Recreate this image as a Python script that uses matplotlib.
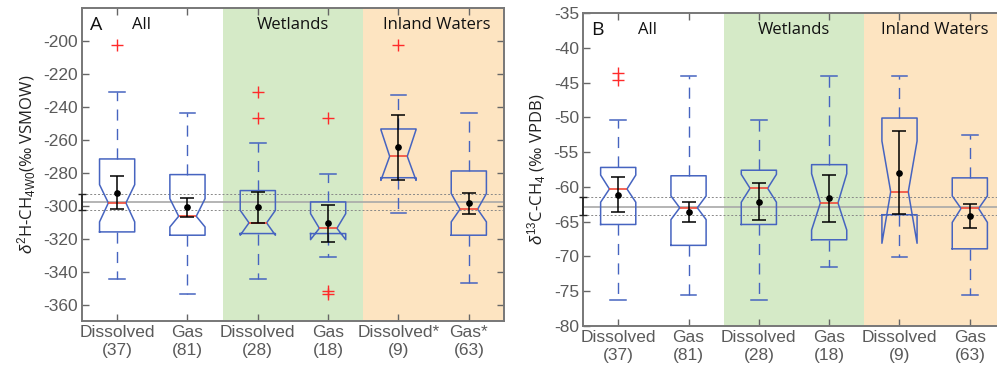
import matplotlib
matplotlib.use("Agg")
import matplotlib.pyplot as plt

plt.rcParams['font.family'] = ['Liberation Sans', 'DejaVu Sans']
plt.rcParams['mathtext.fontset'] = 'custom'
plt.rcParams['mathtext.rm'] = 'Liberation Sans'
plt.rcParams['mathtext.it'] = 'Liberation Sans:italic'

# categories shared by both panels
groups = ["All", "Wetlands", "Inland Waters"]
counts = [37, 81, 28, 18, 9, 63]
labels_a = ["Dissolved", "Gas", "Dissolved", "Gas", "Dissolved*", "Gas*"]
labels_b = ["Dissolved", "Gas", "Dissolved", "Gas", "Dissolved", "Gas"]

# panel A: d2H-CH4 box statistics (lower cap, q1, median, q3, upper cap, notch lo, notch hi)
h_whislo = [-344.2, -353.9, -344.2, -331.3, -304.4, -346.8]
h_q1 = [-315.9, -317.9, -316.9, -316.9, -283.0, -317.9]
h_med = [-298.3, -306.4, -310.4, -313.7, -270.0, -302.1]
h_q3 = [-271.6, -281.1, -290.8, -297.7, -253.4, -278.9]
h_whishi = [-231.0, -244.0, -262.1, -280.7, -233.0, -244.0]
h_cilo = [-309.8, -312.9, -317.9, -320.6, -284.6, -309.8]
h_cihi = [-287.2, -295.7, -302.8, -304.8, -253.8, -292.6]
h_fliers = [[-202.6], [], [-231.0, -246.7], [-246.5, -351.9, -353.9], [-202.6], []]
h_mean = [-292.0, -300.9, -300.9, -310.6, -264.5, -298.1]
h_mean_lo = [-302.0, -306.6, -310.2, -322.2, -284.1, -304.8]
h_mean_hi = [-282.1, -295.5, -291.4, -299.3, -244.7, -292.0]
h_ref = -298.0
h_ref_lo = -302.8
h_ref_hi = -293.0

# panel B: d13C-CH4 box statistics
c_whislo = [-76.3, -75.5, -76.3, -71.5, -70.1, -75.5]
c_q1 = [-65.4, -68.4, -65.4, -67.6, -64.0, -68.9]
c_med = [-60.3, -63.0, -60.2, -62.3, -60.7, -63.1]
c_q3 = [-57.2, -58.4, -57.6, -56.8, -50.1, -58.7]
c_whishi = [-50.4, -44.1, -50.4, -44.1, -44.0, -52.5]
c_cilo = [-62.2, -64.7, -62.2, -66.2, -68.1, -65.1]
c_cihi = [-58.3, -61.3, -58.2, -58.1, -53.4, -61.3]
c_fliers = [[-43.6, -44.6], [], [], [], [], []]
c_mean = [-61.1, -63.6, -62.1, -61.6, -58.0, -64.2]
c_mean_lo = [-63.6, -65.1, -64.8, -65.0, -63.9, -65.9]
c_mean_hi = [-58.6, -62.1, -59.4, -58.3, -52.0, -62.5]
c_ref = -62.85
c_ref_lo = -64.1
c_ref_hi = -61.4

BLUE = '#4664c0'
RED = '#f04a3a'
GREEN_BG = '#d5eac7'
ORANGE_BG = '#fde4c1'
GRAY = '#5a5a5a'


def draw_panel(ax, letter, whislo, q1, med, q3, whishi, cilo, cihi, fliers,
               mean, mean_lo, mean_hi, ref, ref_lo, ref_hi, ylim, yticks,
               ticklabels, ylabel, group_x):
    ax.axvspan(2.5, 4.5, color=GREEN_BG, zorder=0, lw=0)
    ax.axvspan(4.5, 6.5, color=ORANGE_BG, zorder=0, lw=0)

    ax.axhline(ref, color='#a8a8a8', lw=1.2, zorder=1)
    ax.axhline(ref_lo, color='#888888', lw=0.7, ls=(0, (2, 2)), zorder=1)
    ax.axhline(ref_hi, color='#888888', lw=0.7, ls=(0, (2, 2)), zorder=1)
    ax.errorbar([0.5], [ref], yerr=[[ref - ref_lo], [ref_hi - ref]],
                fmt='none', ecolor='#222222', elinewidth=1.2, capsize=3,
                clip_on=False, zorder=5)

    stats = []
    for i in range(len(med)):
        stats.append(dict(whislo=whislo[i], q1=q1[i], med=med[i], q3=q3[i],
                          whishi=whishi[i], cilo=cilo[i], cihi=cihi[i],
                          fliers=fliers[i]))
    positions = list(range(1, len(med) + 1))
    ax.bxp(stats, positions=positions, widths=0.5, capwidths=0.22,
           shownotches=True, showfliers=True, manage_ticks=False,
           boxprops=dict(color=BLUE, lw=1.1),
           whiskerprops=dict(color=BLUE, lw=1.0, ls=(0, (8, 6))),
           capprops=dict(color=BLUE, lw=1.1),
           medianprops=dict(color=RED, lw=1.2),
           flierprops=dict(marker='+', markeredgecolor='#ff2a2a',
                           markersize=8, markeredgewidth=1.0, ls='none'),
           zorder=3)

    ax.errorbar(positions, mean,
                yerr=[[m - lo for m, lo in zip(mean, mean_lo)],
                      [hi - m for m, hi in zip(mean, mean_hi)]],
                fmt='o', color='black', markersize=3.8, elinewidth=1.1,
                capsize=5, capthick=1.1, zorder=4)

    ax.set_xlim(0.5, 6.5)
    ax.set_ylim(*ylim)
    ax.set_yticks(yticks)
    ax.set_yticklabels([str(t) for t in yticks])
    ax.set_xticks(positions)
    ax.set_xticklabels(ticklabels)
    ax.tick_params(direction='in', top=True, right=True, length=5,
                   width=1.0, colors='#666666', labelcolor=GRAY,
                   labelsize=12.5, pad=3)
    for sp in ax.spines.values():
        sp.set_color('#777777')
        sp.set_linewidth(1.4)
    ax.set_ylabel(ylabel, fontsize=12, family=['Open Sans', 'DejaVu Sans'],
                  color='#222222')

    top = ylim[1] - (ylim[1] - ylim[0]) * 0.055
    ax.text(0.62, top, letter, fontsize=14, family=['Open Sans', 'DejaVu Sans'],
            va='center', ha='left', color='#111111')
    for x, g in zip(group_x, groups):
        ax.text(x, top, g, fontsize=12, family=['Open Sans', 'DejaVu Sans'],
                va='center', ha='center', color='#111111')


fig = plt.figure(figsize=(9.97, 3.68), dpi=100)
ax_a = fig.add_axes([0.0822, 0.1277, 0.5055 - 0.0822, 0.978 - 0.1277])
ax_b = fig.add_axes([0.5848, 0.114, 1.008 - 0.5848, 0.9647 - 0.114])

ticks_a = [f"{l}\n({n})" for l, n in zip(labels_a, counts)]
ticks_b = [f"{l}\n({n})" for l, n in zip(labels_b, counts)]

draw_panel(ax_a, "A", h_whislo, h_q1, h_med, h_q3, h_whishi, h_cilo, h_cihi,
           h_fliers, h_mean, h_mean_lo, h_mean_hi, h_ref, h_ref_lo, h_ref_hi,
           (-370, -180), list(range(-360, -199, 20)), ticks_a,
           r'$\delta^2$H-CH$_{4\mathrm{W0}}$(‰ VSMOW)', [1.35, 3.5, 5.55])
draw_panel(ax_b, "B", c_whislo, c_q1, c_med, c_q3, c_whishi, c_cilo, c_cihi,
           c_fliers, c_mean, c_mean_lo, c_mean_hi, c_ref, c_ref_lo, c_ref_hi,
           (-80, -35), list(range(-80, -34, 5)), ticks_b,
           r'$\delta^{13}$C-CH$_4$ (‰ VPDB)', [1.42, 3.5, 5.5])

fig.savefig("out.png", dpi=100)
